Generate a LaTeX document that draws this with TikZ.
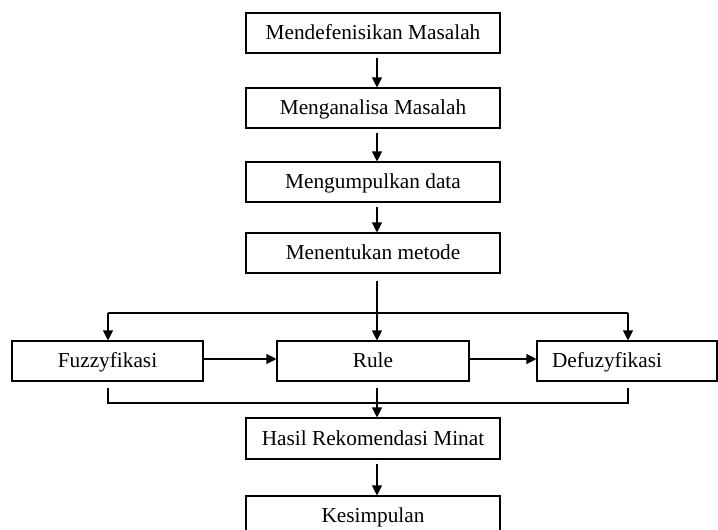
\documentclass[tikz,border=0pt]{standalone}
\usepackage{fontspec}
\setmainfont{Liberation Serif}
\usetikzlibrary{arrows.meta}
\begin{document}
\begin{tikzpicture}[x=1pt,y=1pt,
  box/.style={draw, line width=1.1pt, rectangle, minimum height=40pt, inner sep=0pt,
    text height=16pt, text depth=3pt,
    font=\fontsize{21.3}{25}\selectfont},
  wide/.style={box, minimum width=254pt},
  arr/.style={line width=1.1pt, -{Triangle[length=10pt,width=10pt]}},
  ln/.style={line width=1.1pt}]
\useasboundingbox (0,0) rectangle (718,-530);
\node[wide] (b1) at (373,-33) {Mendefenisikan Masalah};
\node[wide] (b2) at (373,-108) {Menganalisa Masalah};
\node[wide] (b3) at (373,-182) {Mengumpulkan data};
\node[wide] (b4) at (373,-253) {Menentukan metode};
\node[box, minimum width=191pt] (fz) at (107.5,-361) {Fuzzyfikasi};
\node[box, minimum width=192pt] (ru) at (373,-361) {Rule};
\node[box, inner xsep=15pt, text width=150pt, align=left] (df) at (627,-361) {Defuzyfikasi};
\node[box, minimum width=254pt, minimum height=41pt] (ha) at (373,-438.5) {Hasil Rekomendasi Minat};
\node[wide] (ke) at (373,-516) {Kesimpulan};

\draw[arr, shorten <=4pt] ([xshift=4pt]b1.south) -- ([xshift=4pt]b2.north);
\draw[arr, shorten <=4pt] ([xshift=4pt]b2.south) -- ([xshift=4pt]b3.north);
\draw[arr, shorten <=4pt] ([xshift=4pt]b3.south) -- ([xshift=4pt]b4.north);
\draw[arr, shorten <=7pt] ([xshift=4pt]b4.south) -- ([xshift=4pt]ru.north);

\coordinate (tl) at (108,-313);
\coordinate (tr) at (628,-313);
\draw[ln] (tl) -- (tr);
\draw[arr] (tl) -- (tl |- fz.north);
\draw[arr] (tr) -- (tr |- df.north);

\draw[arr] ([yshift=2pt]fz.east) -- ([yshift=2pt]ru.west);
\draw[arr] ([yshift=2pt]ru.east) -- ([yshift=2pt]df.west);

\coordinate (bl) at (108,-403);
\coordinate (br) at (628,-403);
\draw[ln] ([yshift=-6pt]bl |- fz.south) -- (bl) -- (br) -- ([yshift=-6pt]br |- df.south);
\draw[arr, shorten <=6pt] ([xshift=4pt]ru.south) -- ([xshift=4pt]ha.north);
\draw[arr, shorten <=4pt] ([xshift=4pt]ha.south) -- ([xshift=4pt]ke.north);
\end{tikzpicture}
\end{document}
